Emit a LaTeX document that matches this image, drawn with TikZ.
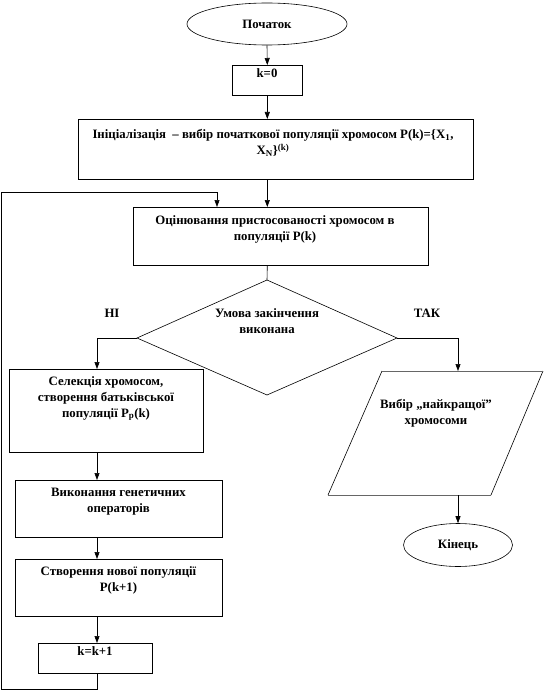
\documentclass[tikz,border=0pt]{standalone}
\usepackage{fontspec}
\setmainfont{Liberation Serif}
\usetikzlibrary{arrows.meta,shapes.geometric,calc}
\begin{document}
\begin{tikzpicture}[x=1pt,y=-1pt,
  box/.style={draw,line width=0.6pt,inner sep=0pt,anchor=north west},
  oval/.style={draw,ellipse,line width=0.6pt,inner sep=0pt},
  txt/.style={font=\bfseries\fontsize{12.8}{16}\selectfont,align=center,inner sep=0pt},
  arr/.style={-{Triangle[length=7pt,width=5pt]},line width=0.6pt},
  ln/.style={line width=0.6pt}]
\useasboundingbox (0,0) rectangle (548,690);

% start / end
\node[oval,minimum width=160,minimum height=42] (start) at (267,24) {};
\node[txt] (startT) at (267,24) {Початок};
\node[oval,minimum width=109,minimum height=43] (fin) at (458,545) {};
\node[txt] (finT) at (458,545) {Кінець};

% boxes
\node[box,minimum width=70,minimum height=30] (k0) at (232,65) {};
\node[txt,anchor=north] (k0T) at (267,68) {k=0};

\node[box,minimum width=395,minimum height=60] (init) at (78,119) {};
\node[txt,anchor=north] (initT) at (273,129) {Ініціалізація \ – вибір початкової популяції хромосом P(k)=\{X\textsubscript{1},\\X\textsubscript{N}\}\textsuperscript{(k)}};

\node[box,minimum width=295,minimum height=58] (eval) at (133,207) {};
\node[txt,anchor=north] (evalT) at (275,215) {Оцінювання пристосованості хромосом в\\популяції P(k)};

\node[box,minimum width=194,minimum height=83] (sel) at (9,369) {};
\node[txt,anchor=north] (selT) at (106,376) {Селекція хромосом,\\створення батьківської\\популяції P\textsubscript{p}(k)};

\node[box,minimum width=207,minimum height=57] (ops) at (15,480) {};
\node[txt,anchor=north] (opsT) at (118.5,488) {Виконання генетичних\\операторів};

\node[box,minimum width=207,minimum height=57] (newp) at (15,559) {};
\node[txt,anchor=north] (newpT) at (118.5,566) {Створення нової популяції\\P(k+1)};

\node[box,minimum width=114,minimum height=30] (kk) at (38,643) {};
\node[txt,anchor=north] (kkT) at (95,646) {k=k+1};

% decision diamond
\coordinate (dT) at (267,280);
\coordinate (dL) at (137,338);
\coordinate (dR) at (397,338);
\coordinate (dB) at (267,395);
\draw[ln] (dT) -- (dR) -- (dB) -- (dL) -- cycle;
\node[txt,anchor=north] (condT) at (267,308) {Умова закінчення\\виконана};
\node[txt] (no) at (112,313) {НІ};
\node[txt] (yes) at (427,313) {ТАК};

% parallelogram
\coordinate (pTL) at (382,371);
\coordinate (pTR) at (543,371);
\coordinate (pBR) at (491,495);
\coordinate (pBL) at (328,495);
\draw[ln] (pTR) -- (pBR);
\draw[ln] (pBL) -- (pTL);
\draw[line width=1pt,black!60] (pTL) -- (pTR);
\draw[line width=1pt,black!60] (pBL) -- (pBR);
\node[txt,anchor=north] (bestT) at (436,399) {Вибір „найкращої”\\хромосоми};

% connectors
\draw[arr] (start.south) -- (k0.south |- k0.north);
\draw[arr] (k0.south) -- (k0.south |- init.north);
\draw[arr] (k0.south |- init.south) -- (k0.south |- eval.north);
\draw[ln] (k0.south |- eval.south) -- (dT);
\coordinate (selTop) at (97,369);
\coordinate (bestTop) at (458,371);
\draw[arr] (dL) -| (selTop);
\draw[arr] (dR) -| (bestTop);
\coordinate (bestBot) at (458,495);
\draw[arr] (bestBot) -- (fin.north);
\coordinate (selBot) at (97,452);
\draw[arr] (selBot) -- (selBot |- ops.north);
\draw[arr] (selBot |- ops.south) -- (selBot |- newp.north);
\draw[arr] (selBot |- newp.south) -- (selBot |- kk.north);
\coordinate (loopA) at (97,689);
\coordinate (loopB) at (1.5,689);
\coordinate (loopC) at (1.5,192);
\coordinate (loopD) at (217,192);
\draw[arr] (selBot |- kk.south) -- (loopA) -- (loopB) -- (loopC) -- (loopD) -- (loopD |- eval.north);
\end{tikzpicture}
\end{document}
